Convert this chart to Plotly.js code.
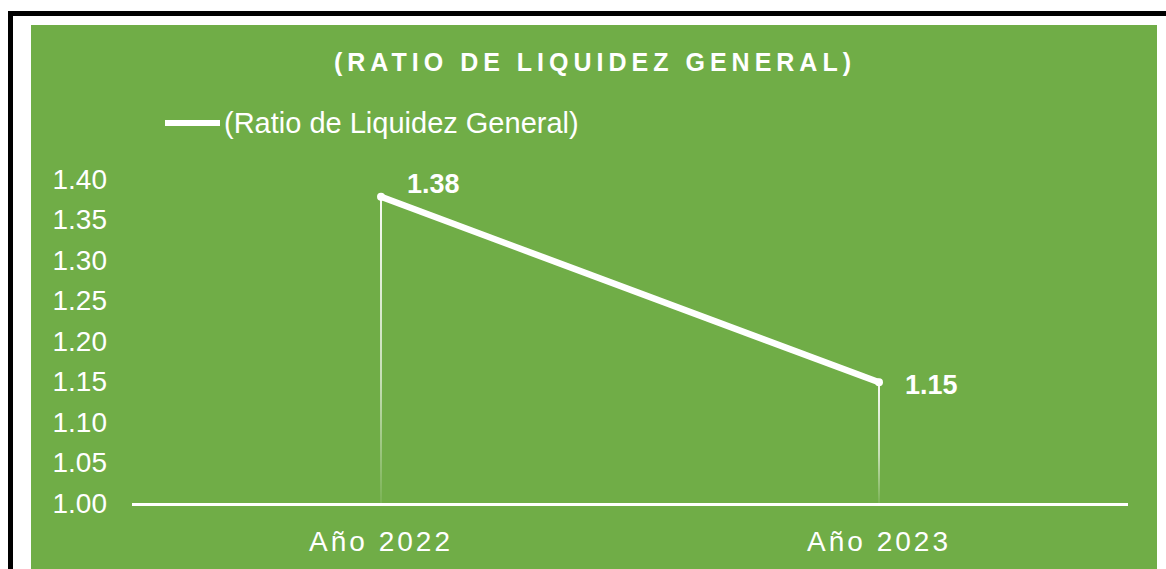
<!DOCTYPE html>
<html>
<head>
<meta charset="utf-8">
<script src="https://cdn.plot.ly/plotly-3.0.1.min.js"></script>
<style>
  html, body { margin: 0; padding: 0; background: #ffffff; overflow: hidden; }
  #frame { position: absolute; left: 8px; top: 11px; width: 1300px; height: 700px;
           border: 5px solid #000; box-sizing: border-box; }
  #panel { position: absolute; left: 31px; top: 25px; width: 1126px; height: 560px; background: #70AD47; }
  #chart { position: absolute; left: 0; top: 0; width: 1166px; height: 569px; }
  #chart .xtick text { letter-spacing: 3px; }
  #chart .gtitle { letter-spacing: 5px; }
</style>
</head>
<body>
<div id="frame"></div>
<div id="panel"></div>
<div id="chart"></div>
<script>
// ---- data ----
const categories = ["Año 2022", "Año 2023"];
const ratioValues = [1.378, 1.149];
const seriesName = "(Ratio de Liquidez General)";
const chartTitle = "(RATIO DE LIQUIDEZ GENERAL)";
const yTickValues = [1.00, 1.05, 1.10, 1.15, 1.20, 1.25, 1.30, 1.35, 1.40];
const yBase = 1.00;

// ---- styles / layout geometry (pixels) ----
const FONT = "Liberation Sans, Arial, sans-serif";
const WHITE = "#ffffff";
const M = {l: 132, r: 38, t: 179, b: 66};
const W = 1166, H = 569;
const plotW = W - M.l - M.r, plotH = H - M.t - M.b;
const px2x = function (px) { return (px - M.l) / plotW; };
const px2y = function (py) { return (H - M.b - py) / plotH; };
const labelShifts = [{x: 52, y: 13}, {x: 52, y: -3}];
const legendGeom = {x0: 165, x1: 220, y: 123, textX: 222};

const lineTrace = {
  type: "scatter", mode: "lines", name: seriesName,
  x: categories, y: ratioValues,
  line: {color: WHITE, width: 6.5}, hoverinfo: "skip", showlegend: false
};
const markerTrace = {
  type: "scatter", mode: "markers", name: seriesName,
  x: categories, y: ratioValues,
  marker: {color: WHITE, size: 8},
  error_y: {type: "data", symmetric: false,
            array: ratioValues.map(() => 0),
            arrayminus: ratioValues.map(v => v - yBase),
            color: "rgba(255,255,255,0.8)", thickness: 2, width: 0},
  showlegend: false, hoverinfo: "skip"
};

const annotations = ratioValues.map((v, i) => ({
  x: categories[i], y: v, xref: "x", yref: "y",
  text: "<b>" + v.toFixed(2) + "</b>", showarrow: false,
  xshift: labelShifts[i].x, yshift: labelShifts[i].y,
  font: {family: FONT, size: 27, color: WHITE}
}));
// legend text
annotations.push({
  xref: "paper", yref: "paper", x: px2x(legendGeom.textX), y: px2y(legendGeom.y),
  xanchor: "left", yanchor: "middle", showarrow: false, text: seriesName,
  font: {family: FONT, size: 29, color: WHITE}
});

const shapes = [{
  type: "line", xref: "paper", yref: "paper",
  x0: px2x(legendGeom.x0), x1: px2x(legendGeom.x1),
  y0: px2y(legendGeom.y), y1: px2y(legendGeom.y),
  line: {color: WHITE, width: 6}
}];

const layout = {
  width: W, height: H,
  paper_bgcolor: "rgba(0,0,0,0)", plot_bgcolor: "rgba(0,0,0,0)",
  margin: {l: M.l, r: M.r, t: M.t, b: M.b, pad: 0, autoexpand: false},
  font: {family: FONT, color: WHITE},
  title: {text: "<b>" + chartTitle + "</b>", xref: "container", yref: "container",
          x: 595 / W, y: 1 - 62 / H, xanchor: "center", yanchor: "middle",
          automargin: false,
          font: {family: FONT, size: 25, color: WHITE}},
  showlegend: false,
  xaxis: {type: "category", range: [-0.5, 1.5], showgrid: false, zeroline: false,
          showline: true, linecolor: WHITE, linewidth: 3, ticks: "",
          automargin: false,
          ticklabelstandoff: 11, tickfont: {family: FONT, size: 28, color: WHITE},
          fixedrange: true},
  yaxis: {range: [1.0, 1.4], tickvals: yTickValues, tickformat: ".2f",
          showgrid: false, zeroline: false, showline: false, ticks: "",
          automargin: false,
          ticklabelstandoff: 24, tickfont: {family: FONT, size: 28, color: WHITE},
          fixedrange: true},
  annotations: annotations,
  shapes: shapes
};

Plotly.newPlot("chart", [markerTrace, lineTrace], layout, {displayModeBar: false, staticPlot: true})
  .then(function (gd) {
    const svg = gd.querySelector("svg.main-svg");
    const ns = "http://www.w3.org/2000/svg";
    let defs = svg.querySelector("defs");
    if (!defs) { defs = document.createElementNS(ns, "defs"); svg.insertBefore(defs, svg.firstChild); }
    // fade the drop lines from white at the point to transparent at the axis
    gd.querySelectorAll(".errorbar path").forEach(function (p, i) {
      const bb = p.getBBox();
      const g = document.createElementNS(ns, "linearGradient");
      g.setAttribute("id", "dropfade" + i);
      g.setAttribute("gradientUnits", "userSpaceOnUse");
      g.setAttribute("x1", bb.x); g.setAttribute("x2", bb.x);
      g.setAttribute("y1", bb.y); g.setAttribute("y2", bb.y + bb.height);
      [["0", 0.95], ["0.6", 0.6], ["1", 0.08]].forEach(function (s) {
        const st = document.createElementNS(ns, "stop");
        st.setAttribute("offset", s[0]);
        st.setAttribute("stop-color", "#ffffff");
        st.setAttribute("stop-opacity", s[1]);
        g.appendChild(st);
      });
      defs.appendChild(g);
      p.style.stroke = "url(#dropfade" + i + ")";
      p.style.strokeOpacity = 1;
    });
  });
</script>
</body>
</html>
